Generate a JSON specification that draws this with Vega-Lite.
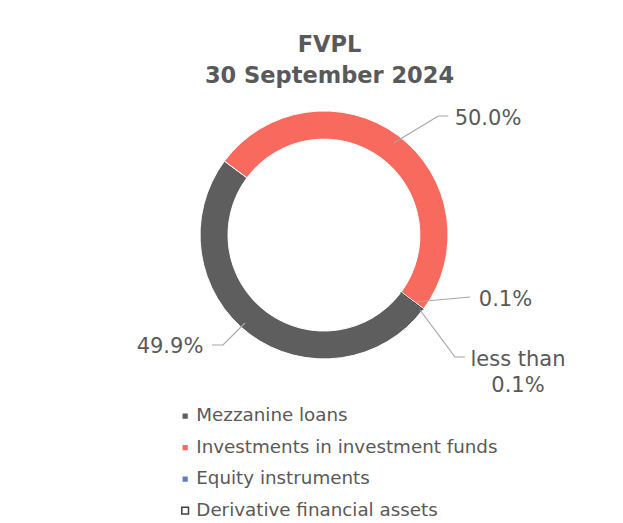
{
  "$schema": "https://vega.github.io/schema/vega-lite/v6.json",
  "width": 623,
  "height": 428,
  "autosize": {"type": "none"},
  "padding": {"top": 95, "left": 0, "right": 0, "bottom": 0},
  "background": "white",
  "title": {
    "text": ["FVPL", "30 September 2024"],
    "font": "DejaVu Sans",
    "fontSize": 22.5,
    "fontWeight": "bold",
    "color": "#595959",
    "lineHeight": 31,
    "anchor": "middle",
    "frame": "group",
    "offset": 8,
    "dx": 18
  },
  "datasets": {
    "slices": [
      {"category": "Mezzanine loans", "rank": 1, "share": 49.9},
      {"category": "Investments in investment funds", "rank": 2, "share": 50.0},
      {"category": "Equity instruments", "rank": 3, "share": 0.1},
      {"category": "Derivative financial assets", "rank": 4, "share": 0.04}
    ],
    "labels": [
      {"label": "50.0%", "lx": 1.3226, "ly": 0.9355},
      {"label": "0.1%", "lx": 1.4637, "ly": -0.5242},
      {"label": "less than\n0.1%", "lx": 1.5645, "ly": -1.0081},
      {"label": "49.9%", "lx": -1.2419, "ly": -0.9032}
    ],
    "leaders": [
      {"line": "a", "seq": 1, "lx": 0.5589, "ly": 0.7395},
      {"line": "a", "seq": 2, "lx": 0.9218, "ly": 0.9597},
      {"line": "a", "seq": 3, "lx": 1.0024, "ly": 0.9597},
      {"line": "b", "seq": 1, "lx": -0.9032, "ly": -0.8871},
      {"line": "b", "seq": 2, "lx": -0.8145, "ly": -0.8871},
      {"line": "b", "seq": 3, "lx": -0.6371, "ly": -0.7097},
      {"line": "c", "seq": 1, "lx": 0.7339, "ly": -0.5403},
      {"line": "c", "seq": 2, "lx": 1.1774, "ly": -0.5},
      {"line": "d", "seq": 1, "lx": 0.7742, "ly": -0.6048},
      {"line": "d", "seq": 2, "lx": 1.0565, "ly": -0.9839},
      {"line": "d", "seq": 3, "lx": 1.1371, "ly": -0.9839}
    ]
  },
  "layer": [
    {
      "data": {"name": "slices"},
      "mark": {"type": "arc", "innerRadius": 96, "outerRadius": 124, "strokeWidth": 1},
      "encoding": {
        "x": {"datum": 0, "type": "quantitative", "scale": {"domain": [-2.6129, 2.4113], "nice": false, "zero": false}, "axis": null},
        "y": {"datum": 0, "type": "quantitative", "scale": {"domain": [-2.3226, 1.129], "nice": false, "zero": false}, "axis": null},
        "theta": {"field": "share", "type": "quantitative", "stack": true, "scale": {"range": [2.2166, 8.4998]}},
        "order": {"field": "rank", "type": "quantitative", "sort": "ascending"},
        "color": {
          "field": "category",
          "type": "nominal",
          "sort": ["Mezzanine loans", "Investments in investment funds", "Equity instruments", "Derivative financial assets"],
          "scale": {
            "domain": ["Mezzanine loans", "Investments in investment funds", "Equity instruments", "Derivative financial assets"],
            "range": ["#5e5e5e", "#f96a5e", "#5a7fbf", "#ffffff"]
          },
          "legend": {
            "title": null,
            "orient": "none",
            "legendX": 176,
            "legendY": 312,
            "direction": "vertical",
            "symbolType": "square",
            "symbolSize": 45,
            "labelFont": "DejaVu Sans",
            "labelFontSize": 18.3,
            "labelColor": "#595959",
            "labelLimit": 400,
            "labelOffset": 2,
            "rowPadding": 12.5,
            "padding": 0
          }
        },
        "stroke": {
          "field": "category",
          "type": "nominal",
          "sort": ["Mezzanine loans", "Investments in investment funds", "Equity instruments", "Derivative financial assets"],
          "scale": {
            "domain": ["Mezzanine loans", "Investments in investment funds", "Equity instruments", "Derivative financial assets"],
            "range": ["#ffffff", "#ffffff", "#ffffff", "#404040"]
          },
          "legend": {
            "title": null,
            "orient": "none",
            "legendX": 176,
            "legendY": 312,
            "direction": "vertical",
            "symbolType": "square",
            "symbolSize": 45,
            "labelFont": "DejaVu Sans",
            "labelFontSize": 18.3,
            "labelColor": "#595959",
            "labelLimit": 400,
            "labelOffset": 2,
            "rowPadding": 12.5,
            "padding": 0
          }
        }
      }
    },
    {
      "data": {"name": "leaders"},
      "mark": {"type": "line", "color": "#a6a6a6", "strokeWidth": 1.2},
      "encoding": {
        "x": {"field": "lx", "type": "quantitative"},
        "y": {"field": "ly", "type": "quantitative"},
        "detail": {"field": "line"},
        "order": {"field": "seq", "type": "quantitative"}
      }
    },
    {
      "data": {"name": "labels"},
      "mark": {"type": "text", "font": "DejaVu Sans", "fontSize": 21, "color": "#595959", "align": "center", "baseline": "middle", "lineBreak": "\n", "lineHeight": 26},
      "encoding": {
        "x": {"field": "lx", "type": "quantitative"},
        "y": {"field": "ly", "type": "quantitative"},
        "text": {"field": "label"}
      }
    }
  ],
  "config": {"view": {"stroke": null}}
}
